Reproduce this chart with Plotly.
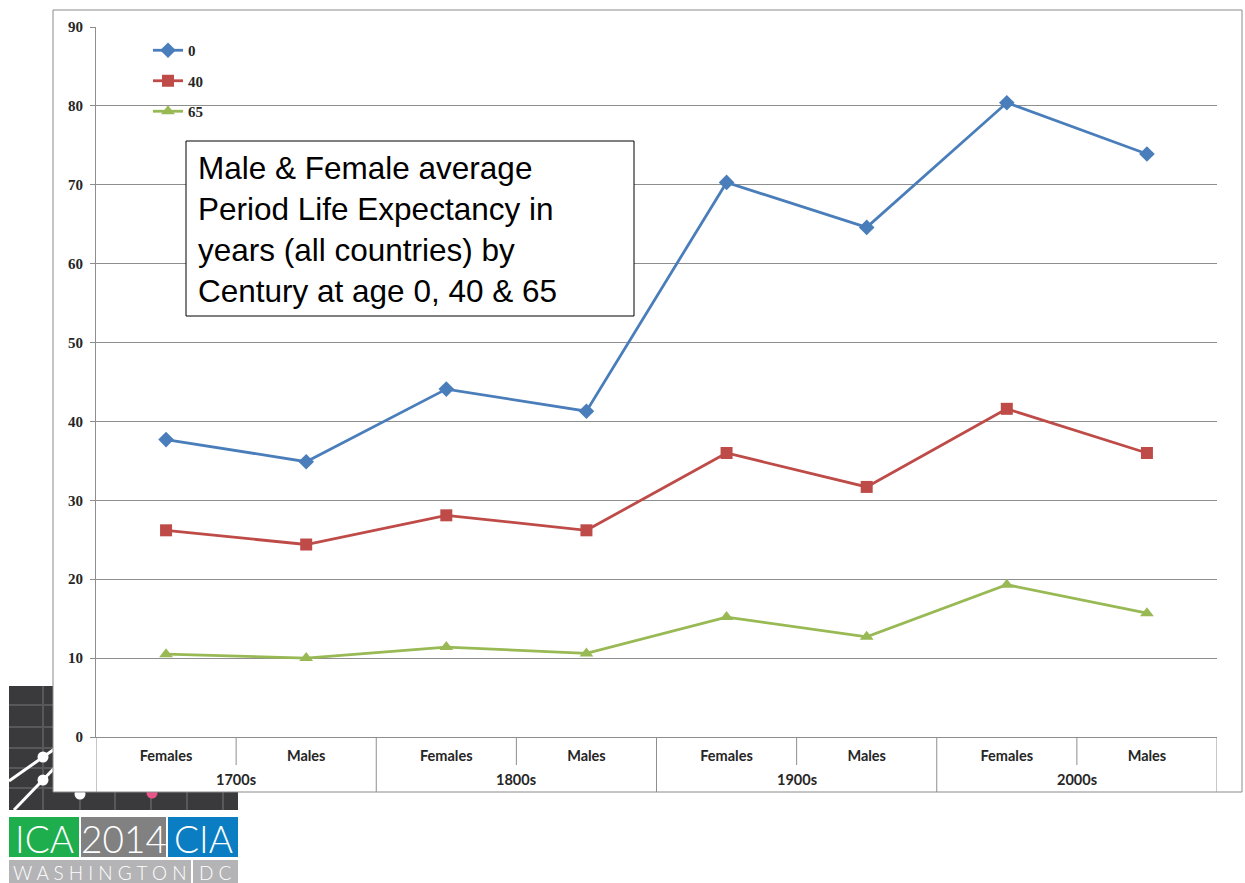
import plotly.graph_objects as go

# ---- data -------------------------------------------------------------
centuries = ["1700s", "1800s", "1900s", "2000s"]
sexes = ["Females", "Males"]
age_0 = [37.7, 34.9, 44.1, 41.3, 70.3, 64.6, 80.4, 73.9]
age_40 = [26.2, 24.4, 28.1, 26.2, 36.0, 31.7, 41.6, 36.0]
age_65 = [10.5, 10.0, 11.4, 10.6, 15.2, 12.7, 19.3, 15.7]
series_names = ["0", "40", "65"]
y_ticks = [0, 10, 20, 30, 40, 50, 60, 70, 80, 90]

n_sex = len(sexes)
positions = list(range(len(centuries) * n_sex))
sex_labels = [s for _ in centuries for s in sexes]

# ---- page geometry helpers (pixel -> paper) ----------------------------
W, H = 1245, 883
L, R, T, B = 96, 28, 27, 146
PW, PH = W - L - R, H - T - B


def px(x):
    return (x - L) / PW


def py(y):
    return (H - B - y) / PH


GRID = "#8e8e8e"
LABEL_FONT = dict(family="Lato", size=14.5, color="#262626", weight="bold")
SERIF_FONT = dict(family="Liberation Serif", size=15, color="#262626", weight="bold")

fig = go.Figure()

styles = [
    dict(color="#4a7ebb", symbol="diamond", size=12),
    dict(color="#be4b48", symbol="square", size=12),
    dict(color="#98b954", symbol="triangle-up", size=12),
]
for name, vals, st in zip(series_names, [age_0, age_40, age_65], styles):
    fig.add_trace(go.Scatter(
        x=positions, y=vals, name=name, mode="lines+markers",
        legendgroup=name,
        line=dict(color=st["color"], width=2.8),
        marker=dict(color=st["color"], symbol=st["symbol"], size=st["size"]),
    ))

shapes = []
annotations = []

# ---- conference logo artwork, lower left -------------------------------
DARK = "#3a3a3c"
shapes.append(dict(type="rect", xref="paper", yref="paper", layer="below",
                   x0=px(9), x1=px(238), y0=py(810), y1=py(686),
                   fillcolor=DARK, line=dict(width=0)))
for gy in [705, 727, 748, 768, 788]:
    shapes.append(dict(type="line", xref="paper", yref="paper", layer="below",
                       x0=px(9), x1=px(238), y0=py(gy), y1=py(gy),
                       line=dict(color="#58585a", width=2)))
for gx in [43, 80, 115, 151, 187, 223]:
    shapes.append(dict(type="line", xref="paper", yref="paper", layer="below",
                       x0=px(gx), x1=px(gx), y0=py(810), y1=py(686),
                       line=dict(color="#58585a", width=2)))
for (x0, y0, x1, y1) in [(9, 781, 110, 710), (14, 810, 90, 731)]:
    shapes.append(dict(type="line", xref="paper", yref="paper", layer="below",
                       x0=px(x0), x1=px(x1), y0=py(y0), y1=py(y1),
                       line=dict(color="white", width=3)))
for (cx, cy, col) in [(43, 757, "white"), (43, 780, "white"),
                      (80, 794, "white"), (152, 793, "#e8558a")]:
    shapes.append(dict(type="circle", xref="paper", yref="paper", layer="below",
                       x0=px(cx - 5.5), x1=px(cx + 5.5), y0=py(cy + 5.5), y1=py(cy - 5.5),
                       fillcolor=col, line=dict(width=0)))

# chart frame (white panel with grey border)
shapes.append(dict(type="rect", xref="paper", yref="paper", layer="below",
                   x0=px(53), x1=px(1242), y0=py(792), y1=py(10),
                   fillcolor="white", line=dict(color="#8a8a8a", width=1)))

# logo boxes
boxes = [
    (9, 79, 817, 857, "#1eae4e", "ICA", 37),
    (81, 166, 817, 857, "#818181", "2014", 37),
    (168, 238, 817, 857, "#0b7dc3", "CIA", 37),
    (9, 191, 860, 883, "#b4b4b6", "W A S H I N G T O N", 19),
    (193, 238, 860, 883, "#b4b4b6", "D C", 19),
]
for x0, x1, y0, y1, col, txt, fs in boxes:
    shapes.append(dict(type="rect", xref="paper", yref="paper", layer="below",
                       x0=px(x0), x1=px(x1), y0=py(y1), y1=py(y0),
                       fillcolor=col, line=dict(width=0)))
    annotations.append(dict(xref="paper", yref="paper", x=px((x0 + x1) / 2),
                            y=py((y0 + y1) / 2 + 1), text=txt, showarrow=False,
                            xanchor="center", yanchor="middle",
                            font=dict(family="Lato", size=fs, color="white", weight=300)))

# ---- two-level category axis: boundary ticks, century dividers, labels --
x_lo, x_hi = positions[0] - 0.5, positions[-1] + 0.5
for k in range(len(positions) + 1):
    xb = x_lo + k
    is_group_edge = (k % n_sex == 0)
    shapes.append(dict(type="line", xref="x", yref="paper", layer="above",
                       x0=xb, x1=xb, y0=0, y1=py(792) if is_group_edge else py(765),
                       line=dict(color=GRID, width=1)))
for g, cent in enumerate(centuries):
    annotations.append(dict(xref="x", yref="paper",
                            x=g * n_sex + (n_sex - 1) / 2, y=py(780),
                            text=cent, showarrow=False, xanchor="center", yanchor="middle",
                            font=LABEL_FONT))

# title box
shapes.append(dict(type="rect", xref="paper", yref="paper", layer="above",
                   x0=px(186), x1=px(634), y0=py(316), y1=py(141),
                   fillcolor="white", line=dict(color="black", width=1)))
annotations.append(dict(
    xref="paper", yref="paper", x=px(196), y=py(230), xanchor="left", yanchor="middle",
    align="left", showarrow=False,
    text="Male & Female average<br>Period Life Expectancy in<br>"
         "years (all countries) by<br>Century at age 0, 40 & 65",
    font=dict(family="Liberation Sans", size=31.5, color="black"),
))

fig.update_layout(
    width=W, height=H,
    margin=dict(l=L, r=R, t=T, b=B, pad=0),
    paper_bgcolor="white",
    plot_bgcolor="rgba(0,0,0,0)",
    shapes=shapes,
    annotations=annotations,
    showlegend=True,
    legend=dict(x=px(148), y=py(34), xanchor="left", yanchor="top",
                bgcolor="rgba(0,0,0,0)", font=SERIF_FONT, tracegroupgap=8,
                itemwidth=30),
    xaxis=dict(
        range=[x_lo, x_hi], tickvals=positions, ticktext=sex_labels,
        showgrid=False, zeroline=False, showline=True, linecolor=GRID, linewidth=1,
        ticks="", ticklabelstandoff=6, tickfont=LABEL_FONT,
    ),
    yaxis=dict(
        range=[0, 90], tickvals=y_ticks, showgrid=True, gridcolor=GRID,
        gridwidth=1, zeroline=False, showline=True, linecolor=GRID,
        ticks="outside", ticklen=5, tickcolor=GRID, tickfont=SERIF_FONT,
        ticklabelstandoff=4,
    ),
)

fig.write_html("out.html")
